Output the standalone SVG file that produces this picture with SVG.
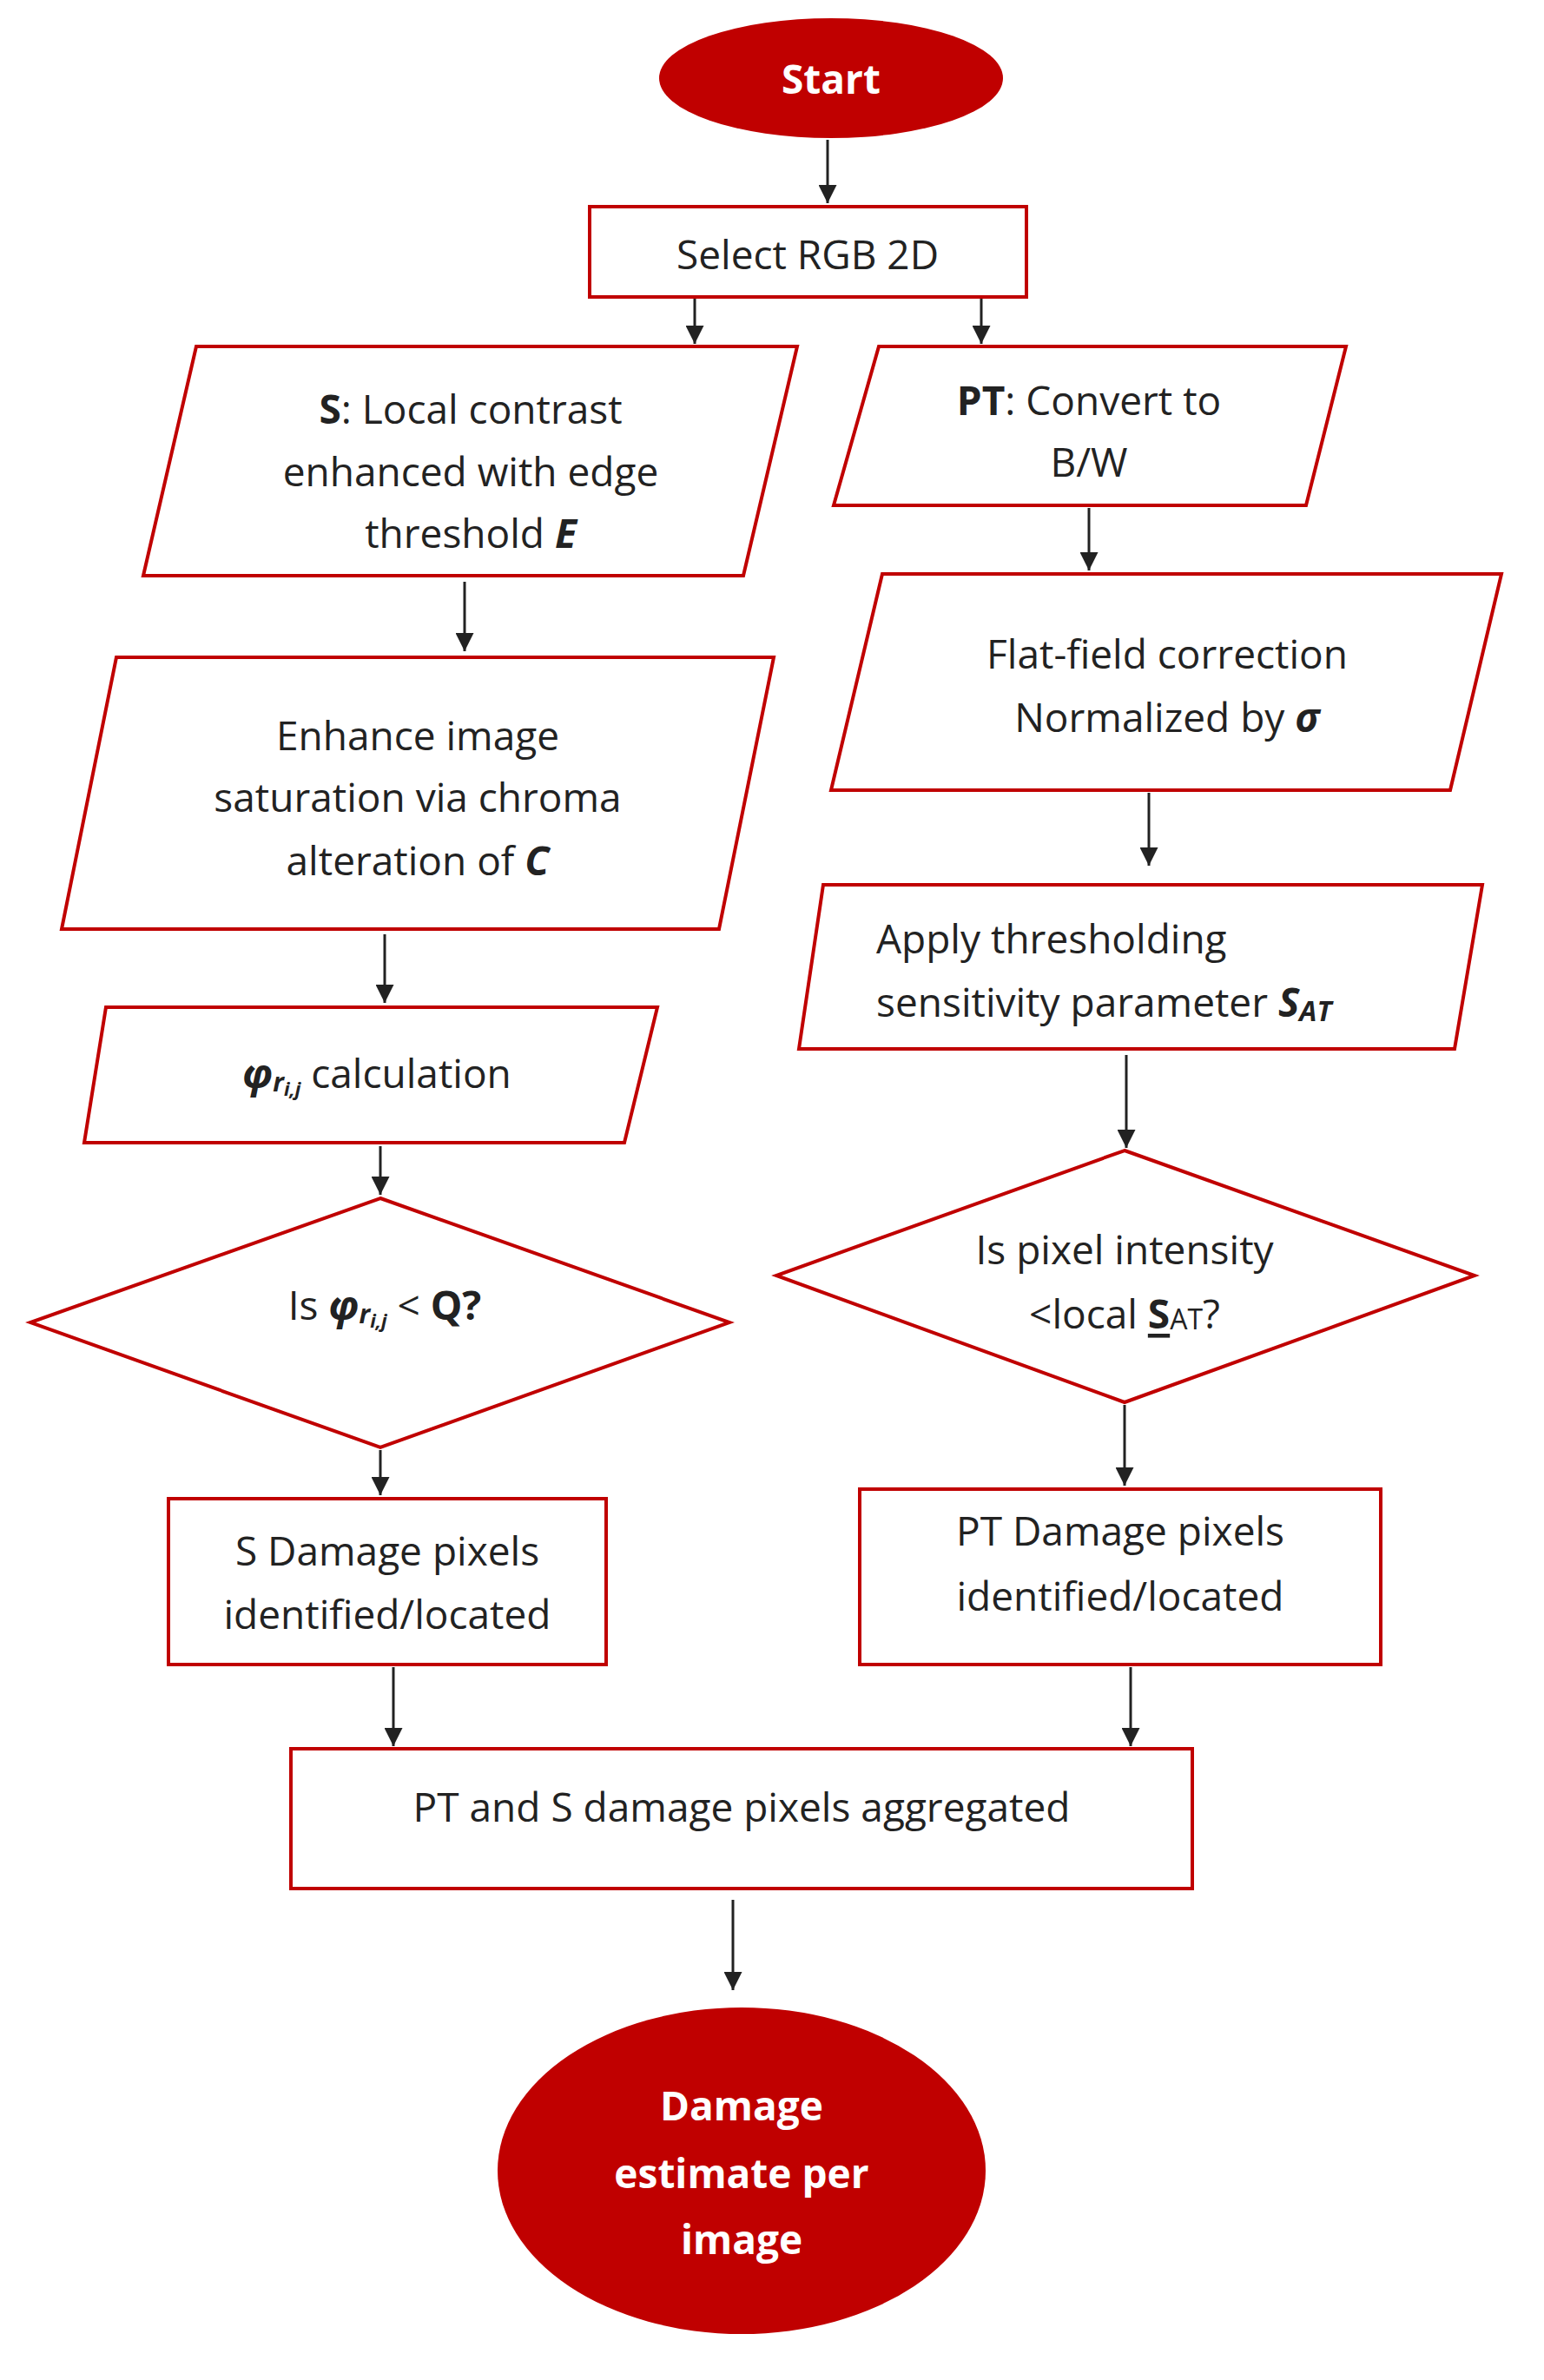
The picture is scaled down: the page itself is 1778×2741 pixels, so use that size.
<svg xmlns="http://www.w3.org/2000/svg" width="1778" height="2741" viewBox="0 0 1778 2741">
<style>
.b{fill:#fff;stroke:#c00000;stroke-width:4}
.t{font-family:"Open Sans","Liberation Sans",sans-serif;font-size:46px;fill:#222;text-anchor:middle;dominant-baseline:central}
.l{text-anchor:start}
.w{font-family:"Open Sans","Liberation Sans",sans-serif;font-size:46px;fill:#fff;font-weight:bold;text-anchor:middle;dominant-baseline:central}
.c{stroke:#222;stroke-width:3;fill:none;marker-end:url(#a)}
</style>
<defs><marker id="a" viewBox="0 0 10 10" refX="10" refY="5" markerWidth="7" markerHeight="7" orient="auto"><path d="M0,0L10,5L0,10z" fill="#222"/></marker></defs>
<rect width="1778" height="2741" fill="#fff"/>
<g id="connectors">
<path class="c" d="M953,161V234"/>
<path class="c" d="M800,344V396"/>
<path class="c" d="M1130,344V396"/>
<path class="c" d="M535,670V750"/>
<path class="c" d="M443,1076V1155"/>
<path class="c" d="M438,1320V1376"/>
<path class="c" d="M438,1670V1722"/>
<path class="c" d="M453,1920V2011"/>
<path class="c" d="M1254,585V657"/>
<path class="c" d="M1323,913V997"/>
<path class="c" d="M1297,1215V1322"/>
<path class="c" d="M1295,1618V1711"/>
<path class="c" d="M1302,1920V2011"/>
<path class="c" d="M844,2188V2292"/>
</g>
<g id="start"><ellipse cx="957" cy="90" rx="198" ry="69" fill="#c00000"/><text class="w" x="957" y="90">Start</text></g>
<g id="select"><rect class="b" x="679" y="238" width="503" height="104"/><text class="t" x="930" y="292">Select RGB 2D</text></g>
<g id="s"><polygon class="b" points="226,399 918,399 856,663 165,663"/>
<text class="t" x="542" y="470"><tspan font-weight="bold">S</tspan>: Local contrast</text>
<text class="t" x="542" y="542">enhanced with edge</text>
<text class="t" x="542" y="613">threshold <tspan font-weight="bold" font-style="italic">E</tspan></text></g>
<g id="pt"><polygon class="b" points="1012,399 1550,399 1504,582 960,582"/>
<text class="t" x="1254" y="460"><tspan font-weight="bold">PT</tspan>: Convert to</text>
<text class="t" x="1254" y="531">B/W</text></g>
<g id="flat"><polygon class="b" points="1016,661 1729,661 1670,910 957,910"/>
<text class="t" x="1344" y="752">Flat-field correction</text>
<text class="t" x="1344" y="825">Normalized by <tspan font-weight="bold" font-style="italic">σ</tspan></text></g>
<g id="enhance"><polygon class="b" points="134,757 891,757 828,1070 71,1070"/>
<text class="t" x="481" y="846">Enhance image</text>
<text class="t" x="481" y="917">saturation via chroma</text>
<text class="t" x="481" y="990">alteration of <tspan font-weight="bold" font-style="italic">C</tspan></text></g>
<g id="apply"><polygon class="b" points="948,1019 1707,1019 1675,1208 920,1208"/>
<text class="t l" x="1009" y="1080">Apply thresholding</text>
<text class="t l" x="1009" y="1153">sensitivity parameter <tspan font-weight="bold" font-style="italic">S</tspan><tspan font-weight="bold" font-style="italic" font-size="32" dy="10">AT</tspan></text></g>
<g id="phi"><polygon class="b" points="122,1160 757,1160 719,1316 97,1316"/>
<text class="t" x="434" y="1235"><tspan font-weight="bold" font-style="italic">φ</tspan><tspan font-weight="bold" font-style="italic" font-size="30" dy="10">r</tspan><tspan font-weight="bold" font-style="italic" font-size="22" dy="8">i,j</tspan><tspan dy="-18"> calculation</tspan></text></g>
<g id="dq"><polygon class="b" points="438,1380 840,1523 438,1667 35,1523"/>
<text class="t" x="443" y="1502">Is <tspan font-weight="bold" font-style="italic">φ</tspan><tspan font-weight="bold" font-style="italic" font-size="30" dy="10">r</tspan><tspan font-weight="bold" font-style="italic" font-size="22" dy="8">i,j</tspan><tspan dy="-18"> &lt; </tspan><tspan font-weight="bold">Q?</tspan></text></g>
<g id="dp"><polygon class="b" points="1295,1325 1698,1469 1295,1615 894,1469"/>
<text class="t" x="1295" y="1438">Is pixel intensity</text>
<text class="t" x="1295" y="1512">&lt;local <tspan font-weight="bold" text-decoration="underline">S</tspan><tspan font-size="32" dy="6">AT</tspan><tspan dy="-6">?</tspan></text></g>
<g id="sdmg"><rect class="b" x="194" y="1726" width="504" height="191"/>
<text class="t" x="446" y="1785">S Damage pixels</text>
<text class="t" x="446" y="1858">identified/located</text></g>
<g id="ptdmg"><rect class="b" x="990" y="1715" width="600" height="202"/>
<text class="t" x="1290" y="1762">PT Damage pixels</text>
<text class="t" x="1290" y="1837">identified/located</text></g>
<g id="agg"><rect class="b" x="335" y="2014" width="1038" height="161"/>
<text class="t" x="854" y="2080">PT and S damage pixels aggregated</text></g>
<g id="end"><ellipse cx="854" cy="2500" rx="281" ry="188" fill="#c00000"/>
<text class="w" x="854" y="2424">Damage</text>
<text class="w" x="854" y="2502">estimate per</text>
<text class="w" x="854" y="2578">image</text></g>
</svg>
